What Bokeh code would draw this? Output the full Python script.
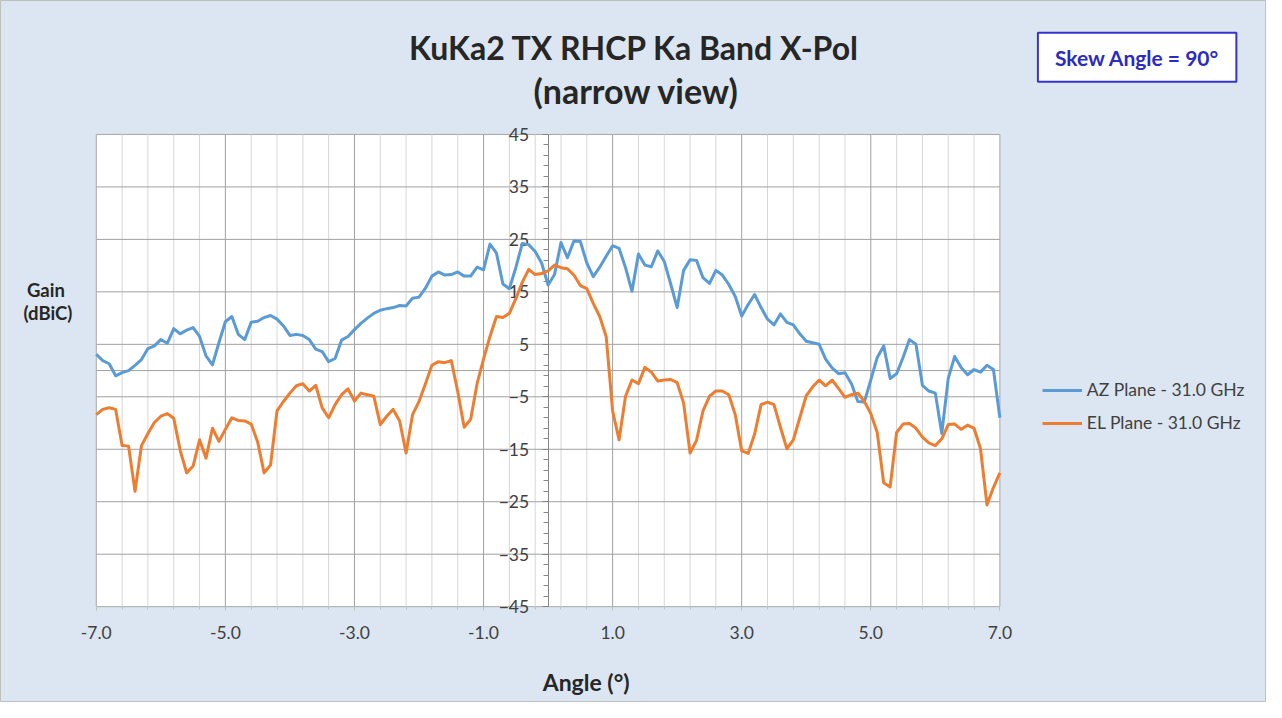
from bokeh.plotting import figure
from bokeh.models import (Range1d, FixedTicker, PrintfTickFormatter, Label,
                          Legend, LegendItem)
from bokeh.embed import file_html
from bokeh.resources import INLINE

# ---------------- data ----------------
angles = [round(-7 + 0.1 * i, 1) for i in range(141)]

az_gain = [
    3.1, 1.9, 1.3, -1.0, -0.4, 0.0, 1.0, 2.1, 4.2, 4.7,
    5.9, 5.2, 8.0, 7.0, 7.7, 8.2, 6.5, 2.8, 1.1, 5.3,
    9.3, 10.3, 6.9, 5.9, 9.2, 9.4, 10.1, 10.5, 9.8, 8.5,
    6.7, 6.9, 6.7, 5.9, 4.1, 3.6, 1.7, 2.3, 5.8, 6.5,
    7.8, 9.0, 10.0, 10.9, 11.5, 11.8, 12.0, 12.4, 12.3, 13.8,
    14.0, 15.7, 18.0, 18.8, 18.2, 18.3, 18.8, 18.0, 18.0, 19.7,
    19.2, 24.1, 22.4, 16.5, 15.6, 19.6, 24.2, 24.0, 22.7, 20.5,
    16.3,
    18.3, 24.4, 21.5, 24.7, 24.6, 20.5, 17.9, 19.7, 21.8, 23.8,
    23.3, 19.6, 15.1, 22.2, 20.1, 19.8, 22.8, 20.8, 16.5, 12.0,
    19.1, 21.1, 21.0, 17.7, 16.6, 19.1, 18.2, 16.4, 14.1, 10.4,
    12.6, 14.5, 12.0, 9.8, 8.7, 10.8, 9.2, 8.7, 7.0, 5.6,
    5.3, 5.0, 2.2, 0.5, -0.6, -0.4, -2.5, -5.9, -6.0, -1.8,
    2.5, 4.7, -1.5, -0.6, 2.5, 5.9, 5.0, -2.8, -3.9, -4.3,
    -12.0, -1.5, 2.7, 0.6, -0.8, 0.2, -0.3, 1.0, 0.2, -9.0,
]

el_gain = [
    -8.4, -7.4, -7.1, -7.4, -14.3, -14.4, -23.0, -14.3, -12.0, -9.9,
    -8.7, -8.2, -9.1, -15.2, -19.5, -18.2, -13.2, -16.7, -11.0, -13.5,
    -11.2, -9.0, -9.5, -9.6, -10.2, -13.6, -19.5, -18.0, -7.7, -5.9,
    -4.3, -2.9, -2.5, -3.9, -2.8, -7.1, -9.0, -6.5, -4.6, -3.5,
    -5.8, -4.3, -4.6, -4.9, -10.3, -8.7, -7.4, -9.6, -15.7, -8.4,
    -5.9, -2.5, 1.0, 1.7, 1.5, 1.9, -4.0, -10.8, -9.3, -2.5,
    2.2, 6.5, 10.3, 10.1, 10.9, 13.7, 16.8, 19.3, 18.3, 18.5,
    19.0,
    20.1, 19.6, 19.4, 18.2, 16.2, 15.6, 12.8, 10.3, 6.5, -7.7,
    -13.2, -4.9, -1.8, -2.5, 0.6, -0.3, -2.0, -1.8, -1.7, -2.3,
    -6.2, -15.7, -13.3, -7.7, -4.9, -3.9, -3.9, -4.6, -8.4, -15.3,
    -15.8, -12.1, -6.5, -6.0, -6.5, -10.8, -14.9, -13.2, -9.0, -4.8,
    -3.1, -1.8, -2.9, -1.8, -3.4, -5.1, -4.6, -4.3, -5.9, -8.2,
    -11.8, -21.4, -22.2, -11.8, -10.2, -10.1, -11.0, -12.7, -13.8, -14.3,
    -13.0, -10.3, -10.2, -11.2, -10.4, -11.0, -14.9, -25.6, -22.3, -19.5,
]

series_labels = ["AZ Plane - 31.0 GHz", "EL Plane - 31.0 GHz"]
X_MIN, X_MAX = -7, 7
Y_MIN, Y_MAX = -45, 45
x_ticks = [-7, -5, -3, -1, 1, 3, 5, 7]
x_minor = [round(-7 + 0.4 * i, 1) for i in range(36) if (i % 5) != 0]
y_ticks = [-45, -35, -25, -15, -5, 5, 15, 25, 35, 45]
y_minor = [v for v in range(-45, 46, 2) if v not in y_ticks]

title_1 = "KuKa2 TX RHCP Ka Band X-Pol"
title_2 = "(narrow view)"
y_title = ["Gain", "(dBiC)"]
x_title = "Angle (\u00b0)"
skew_text = "Skew Angle = 90\u00b0"

# ---------------- styling ----------------
FONT = "Lato"
BG = "#DCE6F2"
TXT = "#404040"
BLUE = "#5B9BD5"
ORANGE = "#ED7D31"
GRID_MAJOR = "#A0A0A0"
GRID_MINOR = "#D6D6D6"

W, H = 1266, 702
REF_W, REF_H = 1282, 718          # reference layout size
SX, SY = W / REF_W, H / REF_H
# plot-area edges in reference layout pixels
R_LEFT, R_RIGHT, R_TOP, R_BOTTOM = 97, 1012, 137, 620
PA_LEFT = R_LEFT * SX
PA_RIGHT = W - R_RIGHT * SX
PA_TOP = R_TOP * SY
PA_BOTTOM = H - R_BOTTOM * SY
PX_X = (W - PA_LEFT - PA_RIGHT) / (X_MAX - X_MIN)
PX_Y = (H - PA_TOP - PA_BOTTOM) / (Y_MAX - Y_MIN)

p = figure(width=W, height=H, output_backend="svg", toolbar_location=None,
           x_range=Range1d(X_MIN - PA_LEFT / PX_X, X_MAX + PA_RIGHT / PX_X),
           y_range=Range1d(Y_MIN - PA_BOTTOM / PX_Y, Y_MAX + PA_TOP / PX_Y),
           min_border=0)
p.title.visible = False
p.border_fill_color = BG
p.background_fill_color = BG
p.outline_line_color = "#BFBFBF"
p.xgrid.visible = False
p.ygrid.visible = False

# white plot area
p.quad(left=[X_MIN], right=[X_MAX], bottom=[Y_MIN], top=[Y_MAX],
       fill_color="white", line_color="#A6A6A6", line_width=1, level="image")

# grid lines
p.segment(x0=x_minor, x1=x_minor, y0=[Y_MIN] * len(x_minor), y1=[Y_MAX] * len(x_minor),
          line_color=GRID_MINOR, line_width=1, level="image")
xm = x_ticks[1:-1]
p.segment(x0=xm, x1=xm, y0=[Y_MIN] * len(xm), y1=[Y_MAX] * len(xm),
          line_color=GRID_MAJOR, line_width=1, level="image")
ym = y_ticks[1:-1]
p.segment(x0=[X_MIN] * len(ym), x1=[X_MAX] * len(ym), y0=ym, y1=ym,
          line_color=GRID_MAJOR, line_width=1, level="image")
# horizontal axis line at gain 0
p.segment(x0=[X_MIN], x1=[X_MAX], y0=[0], y1=[0],
          line_color=GRID_MAJOR, line_width=1, level="image")

# x axis along the bottom edge of the plot area
xa = p.xaxis[0]
xa.fixed_location = Y_MIN
xa.bounds = (X_MIN, X_MAX)
xa.ticker = FixedTicker(ticks=x_ticks, minor_ticks=x_minor)
xa.formatter = PrintfTickFormatter(format="%.1f")
xa.axis_line_color = None
xa.major_tick_out = 4
xa.major_tick_in = 0
xa.minor_tick_out = 3
xa.minor_tick_in = 0
xa.major_tick_line_color = "#BFBFBF"
xa.minor_tick_line_color = "#BFBFBF"
xa.major_label_standoff = 15
xa.major_label_text_font = FONT
xa.major_label_text_font_size = "17.5px"
xa.major_label_text_color = TXT
xa.level = "underlay"

# y axis at angle 0
ya = p.yaxis[0]
ya.fixed_location = 0
ya.bounds = (Y_MIN, Y_MAX)
ya.ticker = FixedTicker(ticks=y_ticks, minor_ticks=y_minor)
ya.axis_line_color = "#868686"
ya.major_tick_out = 6
ya.major_tick_in = 0
ya.minor_tick_out = 5
ya.minor_tick_in = 0
ya.major_tick_line_color = "#868686"
ya.minor_tick_line_color = "#868686"
ya.major_label_standoff = 13
ya.major_label_text_font = FONT
ya.major_label_text_font_size = "17.5px"
ya.major_label_text_color = TXT
ya.level = "underlay"

r_az = p.line(angles, az_gain, line_color=BLUE, line_width=3, line_join="round")
r_el = p.line(angles, el_gain, line_color=ORANGE, line_width=3, line_join="round")

# legend: first row centred at ref y=400, second at 433, glyph starts at ref x=1055
LEG_BOTTOM = H - 443 * SY
legend = Legend(items=[LegendItem(label=series_labels[0], renderers=[r_az]),
                       LegendItem(label=series_labels[1], renderers=[r_el])],
                location=(1055 * SX, LEG_BOTTOM), padding=0, margin=0, spacing=12,
                glyph_width=40, glyph_height=20, label_height=20, label_standoff=5,
                label_text_font=FONT, label_text_font_size="17.5px",
                label_text_color=TXT, border_line_color=None,
                background_fill_alpha=0)
p.add_layout(legend)


# reference-layout pixel -> data helpers
def dx(px):
    return X_MIN + (px - R_LEFT) * SX / PX_X


def dy(py):
    return Y_MAX - (py - R_TOP) * SY / PX_Y


def add_text(text, px, py, size, color="#262626", bold=True, align="center", **kw):
    p.add_layout(Label(x=dx(px), y=dy(py), text=text, text_font=FONT,
                       text_font_size=size, text_color=color,
                       text_font_style="bold" if bold else "normal",
                       text_align=align, text_baseline="middle", **kw))


add_text(title_1, 642, 48, "32px")
add_text(title_2, 644, 92, "34px")
add_text(y_title[0], 46, 296, "18.5px")
add_text(y_title[1], 48, 320, "18.5px")
add_text(x_title, 593, 697, "23px")
add_text(skew_text, 1151, 58, "21px", color="#2B2BC4",
         background_fill_color="white", border_line_color="#3434C8",
         border_line_width=2, padding=(17, 12))

open("out.html", "w").write(file_html(p, INLINE))
